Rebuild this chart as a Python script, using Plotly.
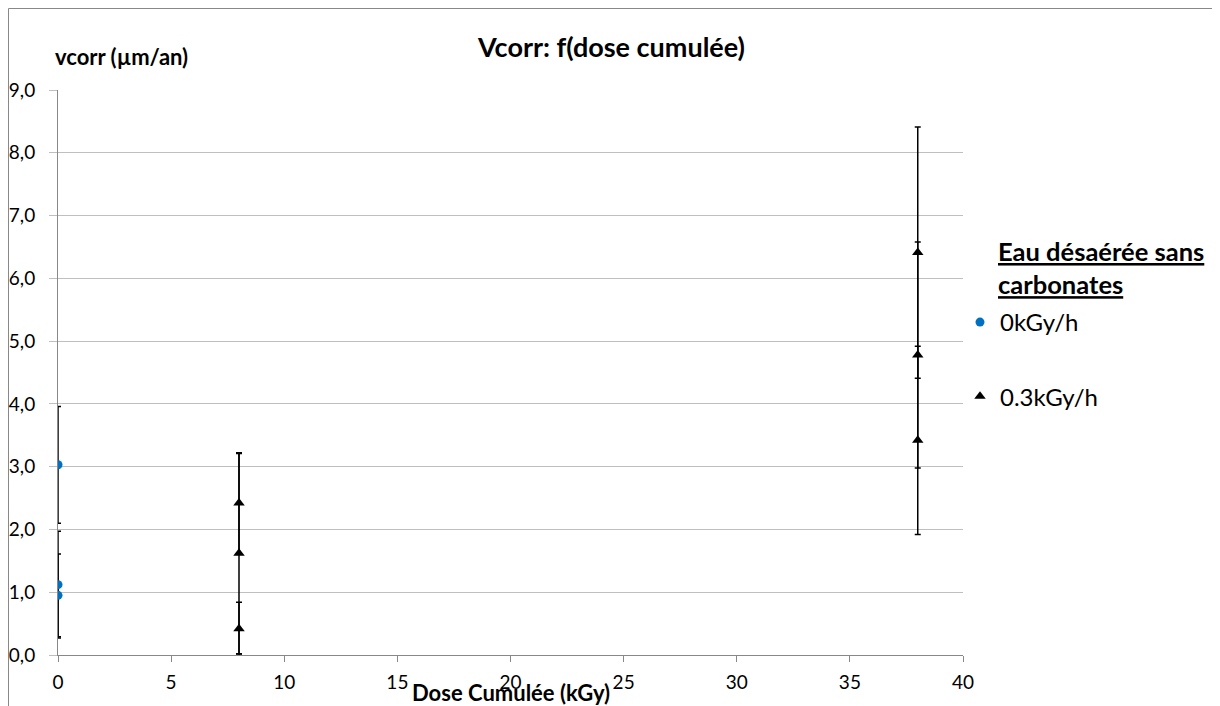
import plotly.graph_objects as go

# Data
dose_0 = [0, 0, 0]
vcorr_0 = [3.03, 1.12, 0.95]
err_0 = [0.93, 0.85, 0.66]

dose_03 = [8, 8, 8, 38, 38, 38]
vcorr_03 = [2.42, 1.62, 0.42, 6.41, 4.78, 3.42]
err_03 = [0.79, 1.60, 0.42, 2.00, 1.80, 1.50]

x_ticks = [0, 5, 10, 15, 20, 25, 30, 35, 40]
y_ticks = [0, 1, 2, 3, 4, 5, 6, 7, 8, 9]

FONT = "Lato"
OFF = 8  # page body margin
W, H = 1212, 698
# plot area in screen pixels: x 58..963, y 90..655
L, R, T, B = 58 - OFF, W - (963 - OFF), 90 - OFF, H - (655 - OFF)
pw, ph = W - L - R, H - T - B


def px(sx):
    return (sx - OFF - L) / pw


def py(sy):
    return (H - B - (sy - OFF)) / ph


fig = go.Figure()
fig.add_trace(go.Scatter(
    x=dose_0, y=vcorr_0, mode="markers", name="0kGy/h", legendgroup="a",
    marker=dict(symbol="circle", size=9, color="#0070C0"),
    error_y=dict(type="data", array=err_0, visible=True, color="black", thickness=1.5, width=3),
))
fig.add_trace(go.Scatter(
    x=dose_03, y=vcorr_03, mode="markers", name="0.3kGy/h", legendgroup="b",
    marker=dict(symbol="triangle-up", size=10, color="black"),
    error_y=dict(type="data", array=err_03, visible=True, color="black", thickness=1.5, width=3),
))

fig.update_layout(
    width=W, height=H,
    margin=dict(l=L, r=R, t=T, b=B, autoexpand=False),
    paper_bgcolor="white", plot_bgcolor="white",
    font=dict(family=FONT, size=19, color="black"),
    separators=", ",
    showlegend=True,
    legend=dict(
        x=px(960), y=py(300), xanchor="left", yanchor="top",
        font=dict(size=24, family=FONT),
        tracegroupgap=40, traceorder="grouped",
        bgcolor="rgba(0,0,0,0)",
    ),
    xaxis=dict(
        range=[0, 40], tickvals=x_ticks, showgrid=False, zeroline=False,
        showline=True, linecolor="#888888", linewidth=1,
        ticks="outside", ticklen=6, tickcolor="#888888",
        ticklabelstandoff=4, automargin=False,
        tickfont=dict(size=19, family=FONT),
    ),
    yaxis=dict(
        range=[0, 9], tickvals=y_ticks, tickformat=".1f",
        showgrid=True, gridcolor="#BFBFBF", gridwidth=1, zeroline=False,
        showline=True, linecolor="#888888", linewidth=1,
        ticks="outside", ticklen=8, tickcolor="#BFBFBF",
        ticklabelstandoff=10, automargin=False,
        tickfont=dict(size=19, family=FONT),
    ),
    annotations=[
        dict(text="<b>Vcorr: f(dose cumulée)</b>", xref="paper", yref="paper",
             x=px(611), y=py(46), xanchor="center", yanchor="middle",
             showarrow=False, font=dict(size=27, family=FONT)),
        dict(text="<b>vcorr (µm/an)</b>", xref="paper", yref="paper",
             x=px(53), y=py(56), xanchor="left", yanchor="middle",
             showarrow=False, font=dict(size=22, family=FONT)),
        dict(text="<b>Dose Cumulée (kGy)</b>", xref="paper", yref="paper",
             x=px(511), y=py(692), xanchor="center", yanchor="middle",
             showarrow=False, font=dict(size=22, family=FONT)),
        dict(text="<b><u>Eau désaérée sans</u></b><br><b><u>carbonates</u></b>",
             xref="paper", yref="paper", x=px(996), y=py(267),
             xanchor="left", yanchor="middle", align="left",
             showarrow=False, font=dict(size=25.5, family=FONT)),
    ],
    shapes=[
        dict(type="rect", xref="paper", yref="paper",
             x0=px(8.5), x1=px(1216), y0=py(730), y1=py(8.5),
             line=dict(color="#888888", width=1), fillcolor="rgba(0,0,0,0)", layer="below"),
    ],
)

fig.write_html("out.html")
